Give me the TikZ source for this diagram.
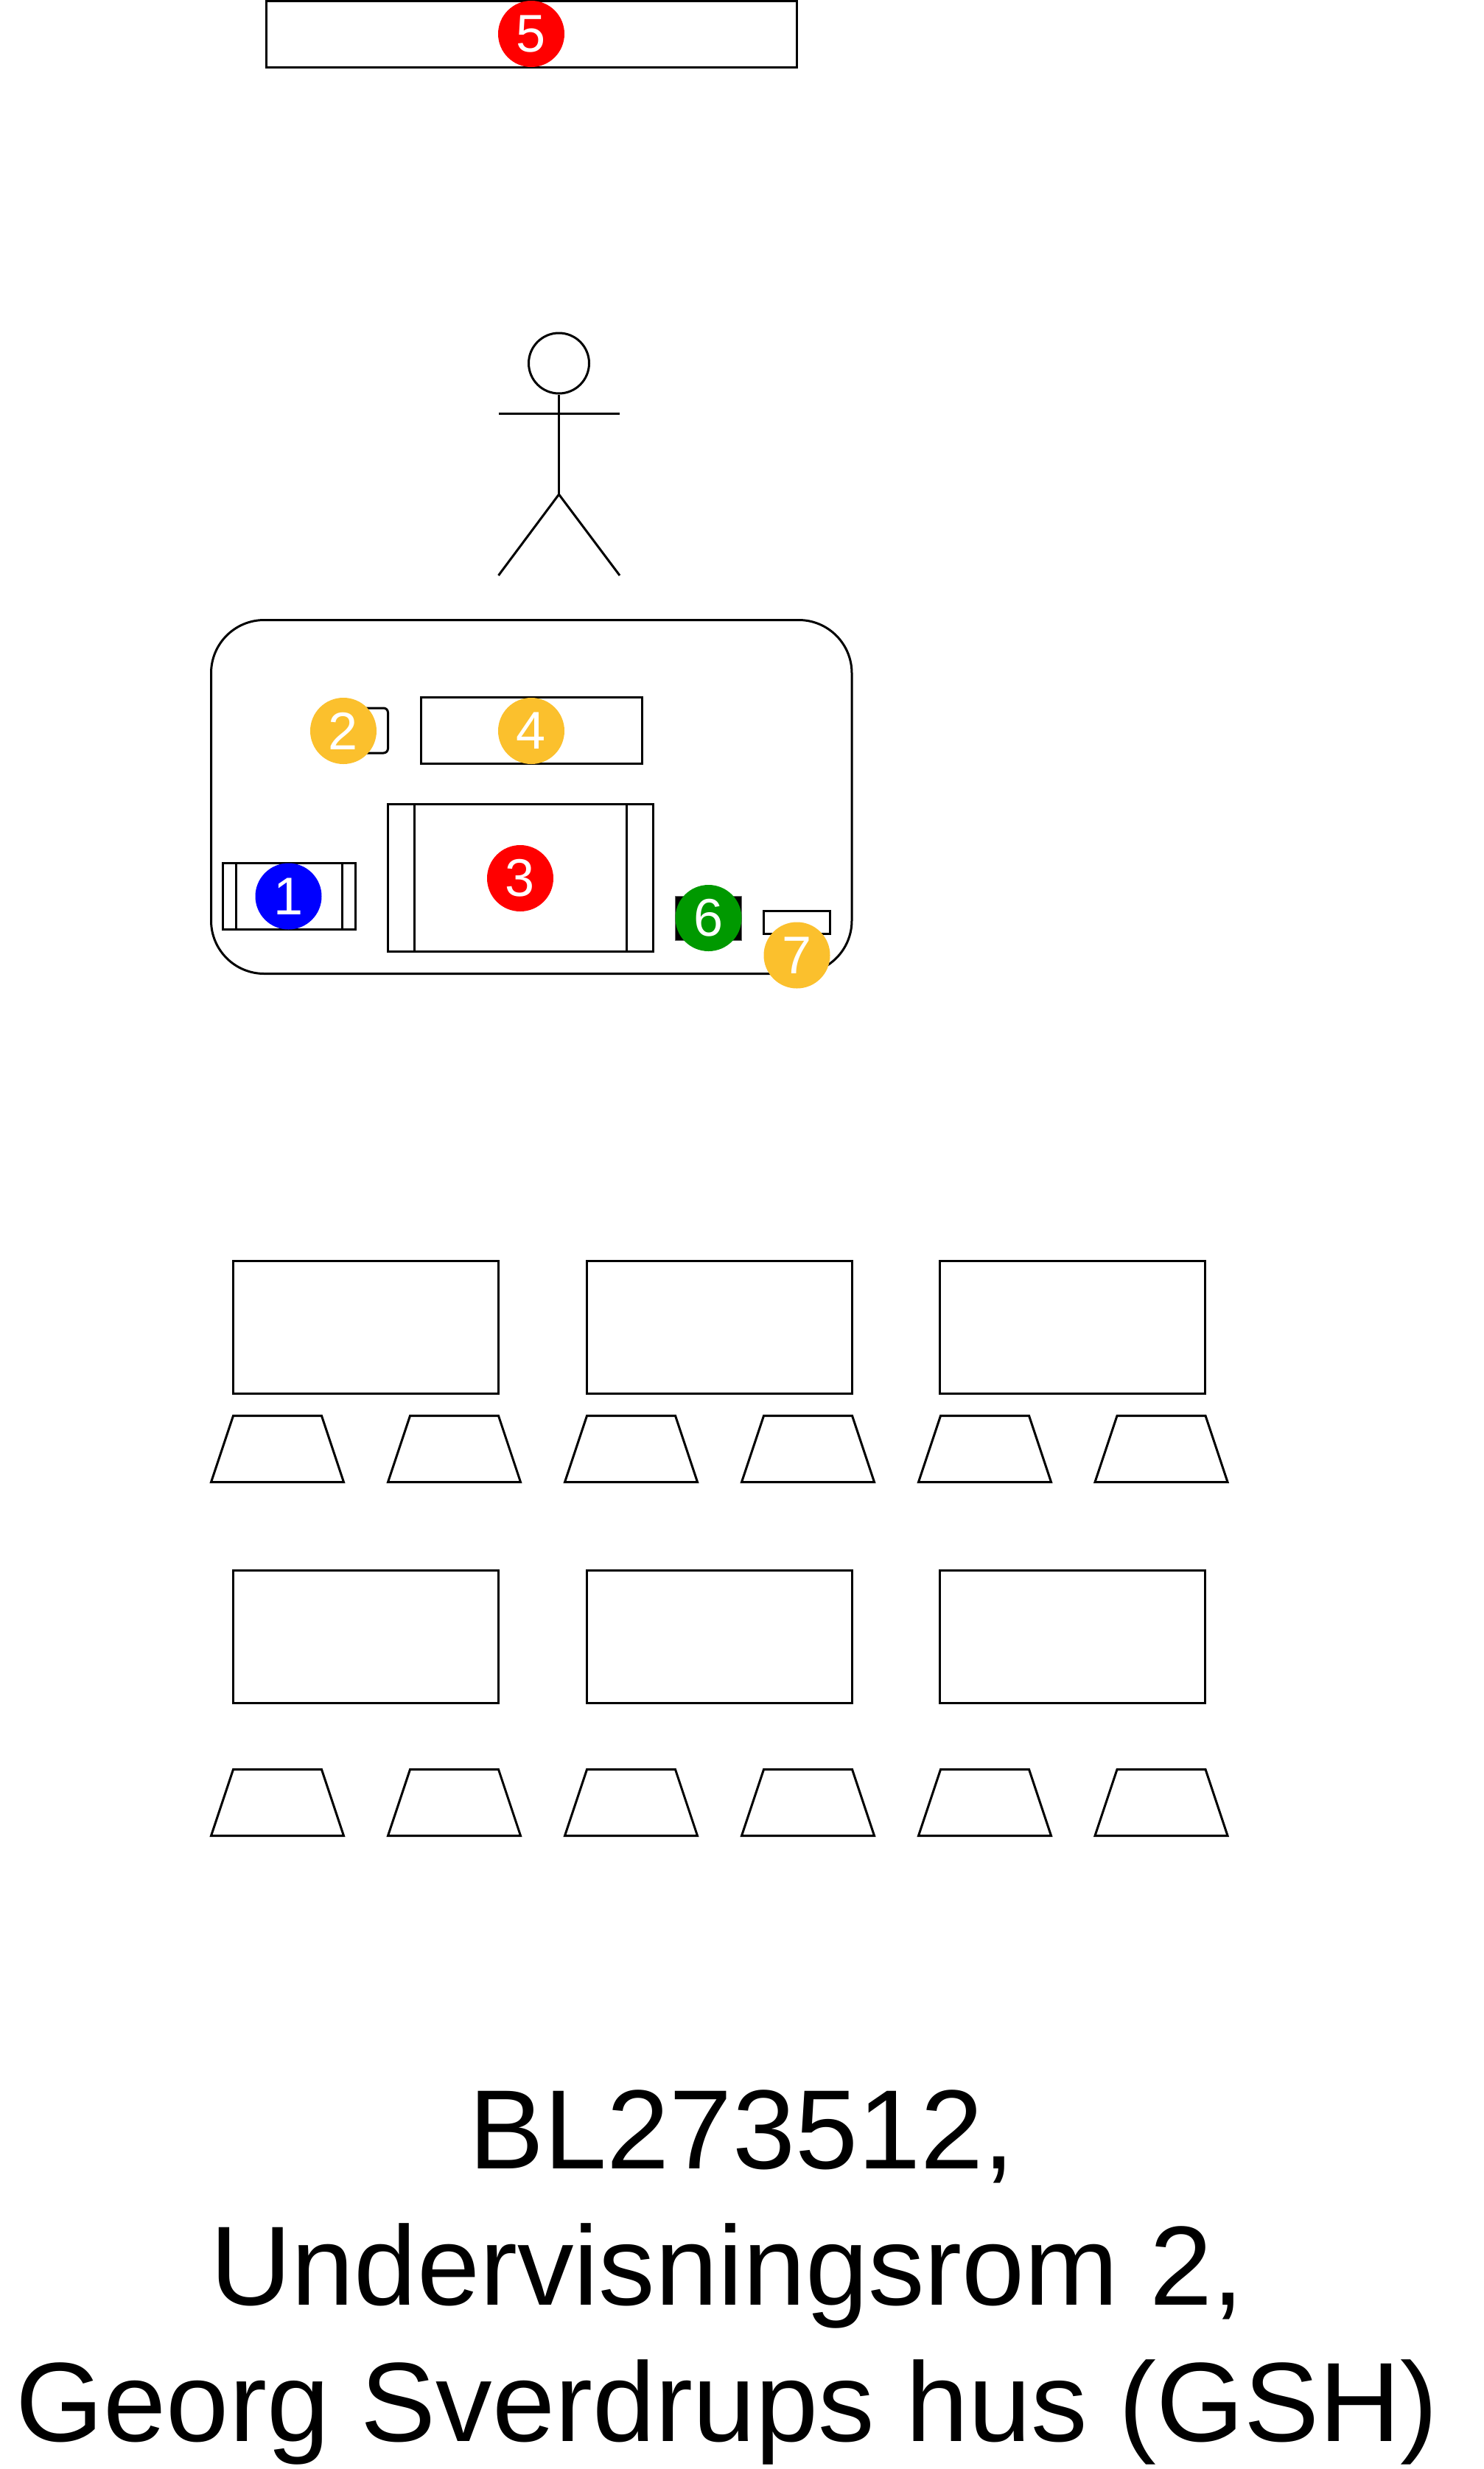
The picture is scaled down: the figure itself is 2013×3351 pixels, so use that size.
\documentclass[tikz,border=0pt]{standalone}
\usepackage{fontspec}
\setmainfont{Liberation Sans}
\definecolor{badgered}{HTML}{FF0000}
\definecolor{badgeblue}{HTML}{0000FF}
\definecolor{badgegreen}{HTML}{009900}
\definecolor{badgeorange}{HTML}{FBC02D}
\tikzset{
	badge/.style={circle, minimum size=45pt, inner sep=0pt, text=white, font=\fontsize{36}{36}\selectfont},
	outline/.style={draw=black, line width=1.5pt, line join=miter}
}
\begin{document}
\begin{tikzpicture}[x=0.5pt, y=-0.5pt, line join=round, line cap=butt]
	\useasboundingbox (0,0) rectangle (2013,3351);
	\fill[white] (0,0) rectangle (2013,3351);
	% screen and teacher
	\draw[outline] (361.5,1.5) rectangle (1081,91);
	\node[draw, circle, line width=1.5pt, minimum size=41pt, inner sep=0pt] (head) at (758.5,493) {};
	\coordinate (hip) at (758.5,671);
	\coordinate (armL) at (676.5,561);
	\coordinate (armR) at (841,561);
	\coordinate (footL) at (676.5,781);
	\coordinate (footR) at (841,781);
	\draw[line width=1.5pt] (head.south) -- (hip);
	\draw[line width=1.5pt] (armL) -- (armR);
	\draw[line width=1.5pt] (footL) -- (hip) -- (footR);
	% podium
	\draw[outline, rounded corners=36pt] (286.5,841.5) rectangle (1156,1321.5);
	\draw[outline, rounded corners=3pt] (466,961) rectangle (526.5,1022);
	\draw[outline] (571,946.5) rectangle (871.5,1036.5);
	\draw[outline] (526.5,1091.5) rectangle (886.5,1291.5);
	\draw[line width=1.5pt] (562.5,1091.5) -- (562.5,1291.5);
	\draw[line width=1.5pt] (850.5,1091.5) -- (850.5,1291.5);
	\draw[outline] (302.5,1171.5) rectangle (482.5,1261.5);
	\draw[line width=1.5pt] (320.5,1171.5) -- (320.5,1261.5);
	\draw[line width=1.5pt] (464.5,1171.5) -- (464.5,1261.5);
	\draw[fill=black, draw=black!60, line width=0.5pt] (916.5,1216.5) rectangle (1006.5,1276.5);
	\draw[outline] (1036.5,1236.5) rectangle (1126.5,1267);
	% desks and chairs
	\foreach \y/\c in {1711/1921.5,2131.5/2401.5}{
		\foreach \x in {316,796,1275}{
			\draw[outline] (\x,\y) rectangle (\x+360,\y+180);
		}
		\foreach \x in {286.5,526.5,766.5,1006.5,1246.5,1486}{
			\draw[outline] (\x+30,\c) -- (\x+150,\c) -- (\x+180,\c+90) -- (\x,\c+90) -- cycle;
		}
	}
	% numbered badges
	\foreach \num/\x/\y/\col in {1/391.5/1216.5/badgeblue,2/466/992/badgeorange,3/706/1192/badgered,4/721/992/badgeorange,5/721/46/badgered,6/961.5/1246/badgegreen,7/1081.5/1296.5/badgeorange}{
		\node[badge, fill=\col] (badge\num) at (\x,\y) {\num};
	}
	% room name
	\node[align=center, font=\fontsize{76.5}{92.5}\selectfont, inner sep=0pt] (title) at (987,3091) {\hspace*{0.26em}BL273512,\\Undervisningsrom 2,\\Georg Sverdrups hus (GSH)};
\end{tikzpicture}
\end{document}
